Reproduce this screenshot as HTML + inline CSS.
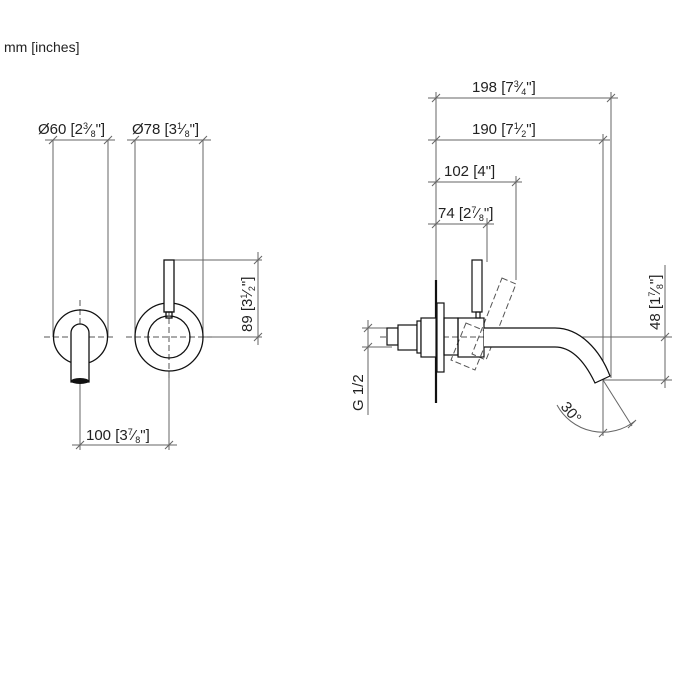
<!DOCTYPE html>
<html><head><meta charset="utf-8"><style>
html,body{margin:0;padding:0;background:#fff}
svg{display:block}
text{font-family:"Liberation Sans",Arial,sans-serif;fill:#222}
</style></head><body>
<svg width="700" height="700" viewBox="0 0 700 700" xmlns="http://www.w3.org/2000/svg">
<text x="4" y="52" font-size="14">mm [inches]</text>
<g stroke="#666" stroke-width="1" fill="none">
<line x1="45" y1="140" x2="115" y2="140"/>
<line x1="53" y1="140" x2="53" y2="337"/>
<line x1="108" y1="140" x2="108" y2="337"/>
<line x1="127" y1="140" x2="211" y2="140"/>
<line x1="135" y1="140" x2="135" y2="337"/>
<line x1="203" y1="140" x2="203" y2="337"/>
<line x1="174" y1="260" x2="262" y2="260"/>
<line x1="203" y1="337" x2="262" y2="337"/>
<line x1="258" y1="252" x2="258" y2="345"/>
<line x1="72" y1="445" x2="177" y2="445"/>
<line x1="80" y1="382" x2="80" y2="450"/>
<line x1="169" y1="371" x2="169" y2="450"/>
<path d="M49 144L57 136M104 144L112 136M131 144L139 136M199 144L207 136M254 264L262 256M254 341L262 333M76 449L84 441M165 449L173 441"/>
<line x1="428" y1="98" x2="618" y2="98"/>
<line x1="428" y1="140" x2="610" y2="140"/>
<line x1="428" y1="182" x2="522" y2="182"/>
<line x1="428" y1="224" x2="494" y2="224"/>
<line x1="436" y1="92" x2="436" y2="280"/>
<line x1="611" y1="92" x2="611" y2="378"/>
<line x1="603" y1="134" x2="603" y2="436"/>
<line x1="516" y1="176" x2="516" y2="280"/>
<line x1="487" y1="218" x2="487" y2="262"/>
<path d="M432 102L440 94M607 102L615 94M432 144L440 136M599 144L607 136M432 186L440 178M512 186L520 178M432 228L440 220M483 228L491 220"/>
<line x1="555" y1="337" x2="672" y2="337"/>
<line x1="603" y1="380" x2="672" y2="380"/>
<line x1="665" y1="265" x2="665" y2="388"/>
<path d="M661 341L669 333M661 384L669 376"/>
<line x1="362" y1="328" x2="392" y2="328"/>
<line x1="362" y1="347" x2="392" y2="347"/>
<line x1="368" y1="320" x2="368" y2="415"/>
<path d="M364 332L372 324M364 351L372 343"/>
<line x1="603" y1="380" x2="632" y2="426"/>
<path d="M557 405 A52 52 0 0 0 635 421"/>
<path d="M599 437L607 429M628 428L636 420"/>
</g>
<g stroke="#555" stroke-width="1" stroke-dasharray="6,3" fill="none">
<line x1="44" y1="337" x2="116" y2="337"/>
<line x1="80" y1="300" x2="80" y2="380"/>
<line x1="126" y1="337" x2="212" y2="337"/>
<line x1="169" y1="300" x2="169" y2="378"/>
<line x1="380" y1="337" x2="555" y2="337"/>
<line x1="590" y1="355" x2="600" y2="375"/>
</g>
<g stroke="#555" stroke-width="1" stroke-dasharray="6,3" fill="none">
<path d="M502 278L516 284L486 360L472 354Z"/>
<path d="M466 323L490 333L475 370L451 360Z"/>
</g>
<g stroke="#111" stroke-width="1.3" fill="none">
<circle cx="80.5" cy="337" r="27"/>
<path d="M71 382V333A9 9 0 0 1 89 333V382Z" fill="#fff"/>
<circle cx="169" cy="337" r="34"/>
<circle cx="169" cy="337" r="21"/>
<rect x="164" y="260" width="10" height="52" fill="#fff"/>
<rect x="166" y="312" width="6" height="6"/>
</g>
<ellipse cx="80" cy="381" rx="9" ry="3" fill="#111"/>
<g stroke="#111" stroke-width="1.2" fill="none">
<line x1="436" y1="280" x2="436" y2="403" stroke-width="2.2"/>
<rect x="437" y="303" width="7" height="69" fill="#fff"/>
<rect x="387" y="328" width="11" height="17" fill="#fff"/>
<rect x="398" y="325" width="19" height="25" fill="#fff"/>
<rect x="417" y="321" width="4" height="32" fill="#fff"/>
<rect x="421" y="318" width="15" height="39" fill="#fff"/>
<rect x="444" y="318" width="14" height="37"/>
<rect x="458" y="318" width="26" height="39"/>
<rect x="472" y="260" width="10" height="52" fill="#fff"/>
<rect x="476" y="312" width="4" height="6"/>
<path d="M484 328H555C580 328 600 350 610 376L595 383C585 362 572 347 555 347H484" fill="#fff"/>
</g>
<g font-size="15">
<text x="38" y="134">Ø60 [2<tspan font-size="9" dy="-5">3</tspan><tspan dy="5">⁄</tspan><tspan font-size="9" dy="3">8</tspan><tspan dy="-3">"]</tspan></text>
<text x="132" y="134">Ø78 [3<tspan font-size="9" dy="-5">1</tspan><tspan dy="5">⁄</tspan><tspan font-size="9" dy="3">8</tspan><tspan dy="-3">"]</tspan></text>
<text transform="translate(252,332) rotate(-90)">89 [3<tspan font-size="9" dy="-5">1</tspan><tspan dy="5">⁄</tspan><tspan font-size="9" dy="3">2</tspan><tspan dy="-3">"]</tspan></text>
<text x="86" y="440">100 [3<tspan font-size="9" dy="-5">7</tspan><tspan dy="5">⁄</tspan><tspan font-size="9" dy="3">8</tspan><tspan dy="-3">"]</tspan></text>
<text x="472" y="92">198 [7<tspan font-size="9" dy="-5">3</tspan><tspan dy="5">⁄</tspan><tspan font-size="9" dy="3">4</tspan><tspan dy="-3">"]</tspan></text>
<text x="472" y="134">190 [7<tspan font-size="9" dy="-5">1</tspan><tspan dy="5">⁄</tspan><tspan font-size="9" dy="3">2</tspan><tspan dy="-3">"]</tspan></text>
<text x="444" y="176">102 [4"]</text>
<text x="438" y="218">74 [2<tspan font-size="9" dy="-5">7</tspan><tspan dy="5">⁄</tspan><tspan font-size="9" dy="3">8</tspan><tspan dy="-3">"]</tspan></text>
<text transform="translate(660,330) rotate(-90)">48 [1<tspan font-size="9" dy="-5">7</tspan><tspan dy="5">⁄</tspan><tspan font-size="9" dy="3">8</tspan><tspan dy="-3">"]</tspan></text>
<text transform="translate(363,411) rotate(-90)">G 1/2</text>
<text transform="translate(560,407) rotate(50)">30°</text>
</g>
</svg>
</body></html>
